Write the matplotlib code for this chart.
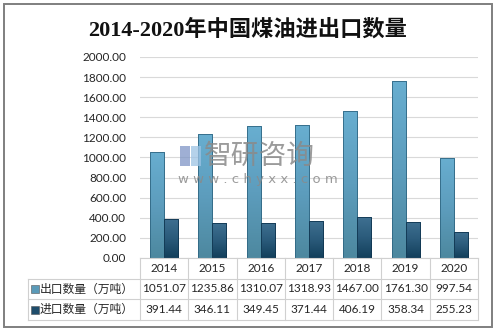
import numpy as np
import matplotlib
matplotlib.use("Agg")
import matplotlib.pyplot as plt
from matplotlib.colors import LinearSegmentedColormap
from matplotlib.patches import Rectangle

plt.rcParams['font.family'] = ['Noto Sans CJK SC', 'DejaVu Sans']

years = ['2014', '2015', '2016', '2017', '2018', '2019', '2020']
export_vals = [1051.07, 1235.86, 1310.07, 1318.93, 1467.00, 1761.30, 997.54]
import_vals = [391.44, 346.11, 349.45, 371.44, 406.19, 358.34, 255.23]
series_names = ['出口数量（万吨）', '进口数量（万吨）']
title = '2014-2020年中国煤油进出口数量'

W, H = 496, 331
fig = plt.figure(figsize=(W / 100, H / 100), dpi=100)
fig.patch.set_facecolor('white')

# outer frame
fig.add_artist(Rectangle((4 / W, 4 / H), 488 / W, 323 / H, transform=fig.transFigure,
                         fill=False, edgecolor='#7f7f7f', linewidth=1.4))

fig.text(0.5, 1 - 30 / H, title, ha='center', va='center', fontsize=16,
         family=['Liberation Serif', 'Noto Sans CJK SC'], fontweight='bold', color='#111111')

ax = fig.add_axes([140 / W, 1 - 258 / H, 338 / W, 201 / H])
x = np.arange(len(years))
bw = 0.29

exp_cmap = LinearSegmentedColormap.from_list('e', ['#4d889f', '#5d9dbd', '#68aed0'])
imp_cmap = LinearSegmentedColormap.from_list('i', ['#123f5b', '#2b5b7b', '#3f7091'])
grad = np.linspace(0, 1, 100).reshape(-1, 1)

bars_e = ax.bar(x - bw / 2, export_vals, bw, color='none', edgecolor='#2f6682', linewidth=0.6, zorder=3)
bars_i = ax.bar(x + bw / 2, import_vals, bw, color='none', edgecolor='#0f3550', linewidth=0.6, zorder=3)
for bars, cmap in ((bars_e, exp_cmap), (bars_i, imp_cmap)):
    for b in bars:
        x0, y0 = b.get_x(), b.get_y()
        im = ax.imshow(grad, extent=[x0, x0 + b.get_width(), y0, y0 + b.get_height()],
                       cmap=cmap, origin='lower', aspect='auto', zorder=2)
        im.set_clip_path(b)

ax.set_xlim(-0.5, len(years) - 0.5)
ax.set_ylim(0, 2000)
ax.set_yticks(np.arange(0, 2001, 200))
ax.set_yticklabels([f'{v:.2f}' for v in np.arange(0, 2001, 200)], family='Lato',
                   fontsize=8.5, color='#262626')
ax.set_xticks([])
ax.grid(axis='y', color='#d9d9d9', linewidth=0.8, zorder=0)
for s in ax.spines.values():
    s.set_visible(False)
ax.tick_params(axis='y', length=0, pad=10)

# data table below the axes, columns aligned to categories
per = 338 / 7
left = -0.5 - (140 - 28) / per
tax = fig.add_axes([28 / W, 1 - 320 / H, 450 / W, 62 / H])
tax.set_xlim(left, len(years) - 0.5)
tax.set_ylim(3, 0)
tax.axis('off')
lc = '#d0d0d0'
for r in range(4):
    x_start = -0.5 if r == 0 else left
    tax.plot([x_start, len(years) - 0.5], [r, r], color=lc, lw=0.8, clip_on=False)
for c in range(len(years) + 1):
    tax.plot([c - 0.5, c - 0.5], [0, 3], color=lc, lw=0.8, clip_on=False)
tax.plot([left, left], [1, 3], color=lc, lw=0.8, clip_on=False)
for i, yr in enumerate(years):
    tax.text(i, 0.5, yr, ha='center', va='center', family='Lato', fontsize=8.5, color='#262626')
for r, (name, vals, col) in enumerate(zip(series_names, (export_vals, import_vals),
                                          ('#5a9ab8', '#1f4d6b'))):
    tax.add_patch(Rectangle((left + 0.07, r + 1.33), 0.15, 0.36, facecolor=col,
                            edgecolor='#555555', lw=0.4, clip_on=False))
    tax.text(left + 0.24, r + 1.5, name, ha='left', va='center', fontsize=8.5, color='#262626')
    for i, v in enumerate(vals):
        tax.text(i, r + 1.5, f'{v:.2f}', ha='center', va='center', family='Lato',
                 fontsize=8.5, color='#262626')

# watermark
fig.add_artist(Rectangle((180 / W, 1 - 166 / H), 10 / W, 20 / H, transform=fig.transFigure,
                         facecolor='#7f95c6', edgecolor='none', alpha=0.75))
fig.add_artist(Rectangle((191 / W, 1 - 166 / H), 10 / W, 20 / H, transform=fig.transFigure,
                         facecolor='#9cc3e4', edgecolor='none', alpha=0.75))
fig.text(204 / W, 1 - 156 / H, '智研咨询', fontsize=20, color='#8a8a8a', alpha=0.85,
         ha='left', va='center')
fig.text(178 / W, 1 - 179 / H, 'w w w . c h y x x . c o m', fontsize=9.5, color='#8a8a8a',
         alpha=0.85, ha='left', va='center', family='DejaVu Sans')

fig.savefig('out.png', dpi=100)
